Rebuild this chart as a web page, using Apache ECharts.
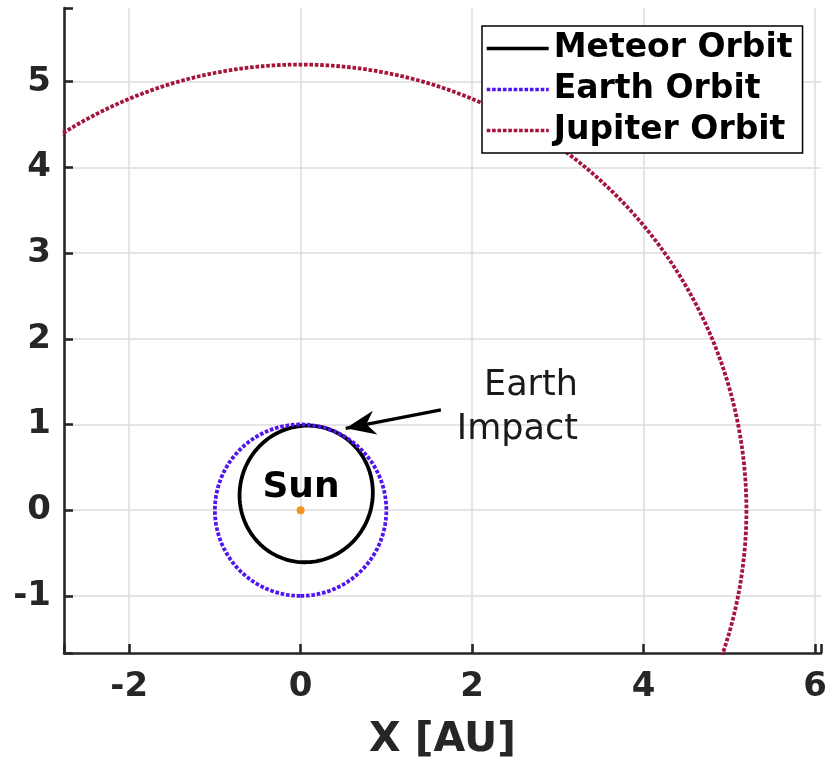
<!DOCTYPE html>
<html>
<head>
<meta charset="utf-8">
<script src="https://cdn.jsdelivr.net/npm/echarts@6/dist/echarts.min.js"></script>
<style>
  html, body { margin: 0; padding: 0; background: #fff; }
  #chart { width: 830px; height: 760px; }
</style>
</head>
<body>
<div id="chart"></div>
<script>
// Orbits, described by their elements (AU, degrees)
const orbitNames = ['Meteor Orbit', 'Earth Orbit', 'Jupiter Orbit'];
const semiMajorAU = [0.80, 1.00, 5.20];
const eccentricity = [0.25, 0.0, 0.0];
const aphelionDirDeg = [71, 90, 90];

// Sun position and annotations
const sunPos = [0, 0];
const noteTexts = ['Sun', 'Earth\nImpact'];
const noteX = [0.01, 3.24];
const noteY = [0.257, 1.183];
const arrowTail = [1.636, 1.17];
const arrowTip = [0.526, 0.955];

// Axis extents and tick spacing
const xRange = [-2.76, 6.07];
const yRange = [-1.667, 5.86];
const xStep = 2;
const yStep = 1;

// Trace an orbit around the Sun (focus at origin) from its elements
function orbitPath(a, e, dirDeg) {
  const pts = [];
  const peri = (dirDeg + 180) * Math.PI / 180;
  const p = a * (1 - e * e);
  for (let k = 0; k <= 720; k++) {
    const nu = k * Math.PI / 360;
    const r = p / (1 + e * Math.cos(nu));
    pts.push([r * Math.cos(nu + peri), r * Math.sin(nu + peri)]);
  }
  return pts;
}

const orbitColors = ['#000000', '#5014f0', '#a5143a'];
const orbitDash = ['solid', [3.6, 1.8], [3.6, 1.8]];

const FONT = 'DejaVu Sans';
const AXIS_COLOR = '#262626';

const orbitSeries = orbitNames.map((name, i) => ({
  name: name,
  type: 'line',
  data: orbitPath(semiMajorAU[i], eccentricity[i], aphelionDirDeg[i]),
  showSymbol: false,
  symbol: 'none',
  smooth: false,
  silent: true,
  clip: true,
  lineStyle: { color: orbitColors[i], width: 3.8, type: orbitDash[i], cap: 'butt' },
  itemStyle: { color: orbitColors[i] },
  z: 3
}));

// Notched arrow head, tip at the centre of its bounding box
const arrowHead = 'path://M0,0 L12,30 L0,21 L-12,30 Z M0,-30 L0,-30';

const option = {
  animation: false,
  backgroundColor: '#ffffff',
  grid: {
    left: 64, right: 9, top: 8, bottom: 107,
    containLabel: false,
    outerBoundsMode: 'none'
  },
  xAxis: {
    type: 'value',
    min: xRange[0], max: xRange[1],
    splitNumber: 4, minInterval: xStep, maxInterval: xStep,
    name: 'X [AU]',
    nameLocation: 'middle',
    nameGap: 67,
    nameTextStyle: { fontFamily: FONT, fontWeight: 'bold', fontSize: 41, color: AXIS_COLOR },
    axisLine: { show: true, onZero: false, lineStyle: { color: AXIS_COLOR, width: 2.6 } },
    axisTick: { show: true, inside: true, length: 9, lineStyle: { color: AXIS_COLOR, width: 2.6 } },
    axisLabel: {
      fontFamily: FONT, fontWeight: 'bold', fontSize: 34, color: AXIS_COLOR, margin: 17,
      formatter: v => (Math.abs(v / xStep - Math.round(v / xStep)) < 1e-6 ? String(Math.round(v)) : '')
    },
    splitLine: { show: true, showMinLine: false, showMaxLine: false, lineStyle: { color: '#dcdcdc', width: 1.5 } }
  },
  yAxis: {
    type: 'value',
    min: yRange[0], max: yRange[1],
    splitNumber: 7, minInterval: yStep, maxInterval: yStep,
    axisLine: { show: true, onZero: false, lineStyle: { color: AXIS_COLOR, width: 2.6 } },
    axisTick: { show: true, inside: true, length: 9, lineStyle: { color: AXIS_COLOR, width: 2.6 } },
    axisLabel: {
      fontFamily: FONT, fontWeight: 'bold', fontSize: 34, color: AXIS_COLOR, margin: 13,
      formatter: v => (Math.abs(v / yStep - Math.round(v / yStep)) < 1e-6 ? String(Math.round(v)) : '')
    },
    splitLine: { show: true, showMinLine: false, showMaxLine: false, lineStyle: { color: '#dcdcdc', width: 1.5 } }
  },
  legend: {
    data: orbitNames,
    orient: 'vertical',
    left: 482, top: 26,
    padding: [6, 10, 6, 3],
    itemGap: 8,
    itemWidth: 62,
    itemHeight: 3,
    itemStyle: { opacity: 0 },
    lineStyle: { width: 3.4 },
    backgroundColor: '#ffffff',
    borderColor: '#000000',
    borderWidth: 1.5,
    borderRadius: 0,
    selectedMode: false,
    textStyle: { fontFamily: FONT, fontWeight: 'bold', fontSize: 33, color: '#000000' }
  },
  series: orbitSeries.concat([
    {
      name: 'Sun',
      type: 'scatter',
      data: [sunPos],
      symbol: 'circle',
      symbolSize: 8,
      silent: true,
      itemStyle: { color: '#f0961e', opacity: 1 },
      z: 5
    },
    {
      name: 'notes',
      type: 'scatter',
      silent: true,
      symbolSize: 1,
      itemStyle: { color: 'rgba(0,0,0,0)', opacity: 1 },
      data: noteTexts.map((t, i) => ({
        value: [noteX[i], noteY[i]],
        label: i === 0
          ? { show: true, position: [0, 0], formatter: t, align: 'center', verticalAlign: 'middle',
              fontFamily: FONT, fontWeight: 'bold', fontSize: 36, color: '#000000' }
          : { show: true, position: [0, 0], formatter: t, align: 'right', verticalAlign: 'middle',
              fontFamily: FONT, fontWeight: 'normal', fontSize: 35, lineHeight: 44, color: '#1a1a1a' }
      })),
      markLine: {
        silent: true,
        symbol: ['none', arrowHead],
        symbolSize: [24, 60],
        label: { show: false },
        lineStyle: { color: '#000000', width: 3.2, type: 'solid', opacity: 1 },
        data: [[{ coord: arrowTail }, { coord: arrowTip }]]
      },
      z: 6
    }
  ])
};

const chart = echarts.init(document.getElementById('chart'), null, { renderer: 'canvas' });
chart.setOption(option);
</script>
</body>
</html>
